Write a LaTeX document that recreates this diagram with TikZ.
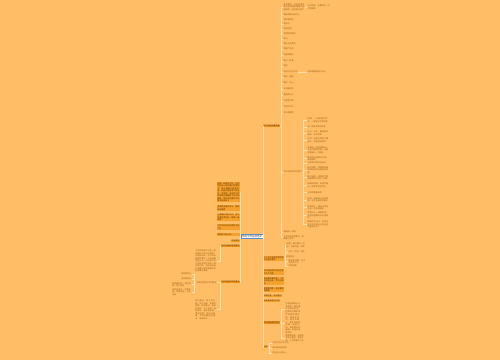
\documentclass[tikz,border=0pt]{standalone}
\usepackage{fontspec}
\newfontfamily\cjk{Noto Sans CJK SC}
\XeTeXlinebreaklocale "zh"
\XeTeXlinebreakskip=0pt plus 1pt
\definecolor{bgc}{HTML}{FFBD66}
\definecolor{linec}{HTML}{FFE2B0}
\definecolor{boxc}{HTML}{F5A12C}
\definecolor{barc}{HTML}{EE9218}
\definecolor{leafc}{HTML}{9A5E16}
\definecolor{boxt}{HTML}{5A3208}
\newcommand\mmf{\cjk\fontsize{2}{2.5}\selectfont}
\begin{document}
\begin{tikzpicture}[x=1pt,y=-1pt,
  leaf/.style={inner sep=0.5pt, font=\mmf, text=leafc, align=left},
  boxn/.style={leaf, fill=boxc, text=boxt},
  barn/.style={leaf, fill=barc, text=boxt},
  conn/.style={draw=linec, line width=0.6pt},
  rt/.style={anchor=west}, lt/.style={anchor=east}]
\fill[bgc] (0,0) rectangle (500,360);
\useasboundingbox (0,0) rectangle (500,360);
% center
\node[draw=cyan!50!blue!70, fill=white, inner sep=0.7pt, font=\cjk\fontsize{2.5}{3}\selectfont, text=black!80] (C) at (252,236.5) {年终工作总结范文};
% right first level
\node[barn,rt] (R1) at (263,126) {工作总结主要内容};
\node[boxn,rt,text width=20pt] (R2) at (263,258.5) {个人工作总结的写作格式与基本要求};
\node[boxn,rt,text width=20pt] (R3) at (263,272) {工作总结写作时应注意的几个问题};
\node[boxn,rt,text width=20pt] (R4) at (263,281) {总结要实事求是，一切从实际出发，不夸大成绩};
\node[boxn,rt,text width=20pt] (R5) at (263,289.5) {条理要清楚，语言要简明准确};
\node[boxn,rt] (R6) at (263,296) {详略适宜，突出重点};
\node[boxn,rt] (R7) at (263,301) {总结要有理论价值};
\node[barn,rt] (R8) at (263,322.5) {工作总结写作方法};
\node[boxn,rt] (R9) at (263,347) {结尾};
% R1 children
\node[leaf,rt,text width=21pt] (A0) at (283,7) {基本情况：对自身情况和形势背景的简略介绍或说明，包括单位名称};
\node[leaf,rt,text width=22pt] (A0a) at (307,7) {工作性质、主要任务、时代背景等};
\node[leaf,rt] (A1) at (283,15) {成绩和缺点是中心};
\node[leaf,rt] (A2) at (283,19.5) {成绩有哪些};
\node[leaf,rt] (A3) at (283,24) {有多大};
\node[leaf,rt] (A4) at (283,29) {表现在哪};
\node[leaf,rt] (A5) at (283,33.5) {是怎样取得的};
\node[leaf,rt] (A6) at (283,39) {缺点};
\node[leaf,rt] (A7) at (283,44) {是什么性质的};
\node[leaf,rt] (A8) at (283,49) {怎样产生的};
\node[leaf,rt] (A9) at (283,55) {经验和教训};
\node[leaf,rt] (A10) at (283,61) {做过一件事};
\node[leaf,rt] (A11) at (283,66) {经验};
\node[leaf,rt] (A12) at (283,72) {须对以往工作的};
\node[leaf,rt] (A12a) at (307,72) {经验和教训进行分析};
\node[leaf,rt] (A13) at (283,77) {研究、概括};
\node[leaf,rt] (A14) at (283,83) {集中，并上};
\node[leaf,rt] (A15) at (283,89) {升到理论的};
\node[leaf,rt] (A16) at (283,95) {高度来认识};
\node[leaf,rt] (A17) at (283,101) {今后的打算};
\node[leaf,rt] (A18) at (283,107) {今后的工作};
\node[leaf,rt] (A19) at (283,113) {任务和要求};
\node[leaf,rt] (B) at (283,172) {工作总结的写作格式};
\node[leaf,rt] (C1) at (283,232) {吸取前一时期};
\node[leaf,rt,text width=20pt] (C2) at (283,237.5) {工作的经验和教训，明确努力方向};
% B children
\node[leaf,rt,text width=21pt] (B1) at (307,120.5) {标题：一般有两种写法，一种是公文式标题};
\node[leaf,rt] (B2) at (307,127) {另一种是文章式标题};
\node[leaf,rt,text width=21pt] (B3) at (307,133.5) {正文：开头，概述基本情况，交代背景};
\node[leaf,rt,text width=21pt] (B4) at (307,140.5) {主体：这是总结的主要部分，内容包括成绩};
\node[leaf,rt,text width=21pt] (B5) at (307,150) {和做法、经验和教训、今后打算等方面，这部分篇幅大、内容多};
\node[leaf,rt,text width=21pt] (B6) at (307,158.5) {要特别注意层次分明、条理清楚};
\node[leaf,rt] (B7) at (307,163) {主体部分常见的结构};
\node[leaf,rt,text width=21pt] (B8) at (307,170) {纵式结构：按照事物或实践活动的过程安排内容};
\node[leaf,rt,text width=21pt] (B9) at (307,177.5) {横式结构：按事实性质和规律的不同分门别类};
\node[leaf,rt,text width=21pt] (B10) at (307,185.5) {纵横式结构：安排内容时，既考虑时间先后};
\node[leaf,rt] (B11) at (307,192.5) {又考虑逻辑关系};
\node[leaf,rt,text width=21pt] (B12) at (307,200) {结尾：结尾是正文的收束，应在总结经验教训};
\node[leaf,rt,text width=21pt] (B13) at (307,207.5) {的基础上，提出今后的方向、任务和措施};
\node[leaf,rt,text width=21pt] (B14) at (307,215.5) {表明决心、展望前景，这段内容要与开头相照应};
\node[leaf,rt,text width=21pt] (B15) at (307,224.5) {篇幅不应过长，有些总结在主体部分已将这些内容表达过了};
% R2 children
\node[leaf,rt,text width=18pt] (D1) at (286,245) {标题：单位名称、时间、主要内容、文种};
\node[leaf,rt] (D2) at (288,252) {正文：前言、主体};
\node[leaf,rt] (D3) at (286,257) {结尾部分};
\node[leaf,rt,text width=17pt] (D4) at (288,261.5) {署名和日期：在正文的右下方};
\node[leaf,rt] (D5) at (288,266) {写明日期};
% R8 children
\node[leaf,rt,text width=15pt] (E1) at (285,309) {总结前要充分占有材料。最好通过不同的形式，听取各方面的意见};
\node[leaf,rt,text width=15pt] (E2) at (285,323.5) {一定要实事求是，成绩不夸大，缺点不缩小，更不能弄虚作假。这是分析、得出教训的基础，也是总结的原则};
\node[leaf,rt,text width=18pt] (E3) at (285,338) {条理要清楚。总结是写给人看的，条理不清，人们就看不下去};
% R9 children
\node[leaf,rt] (F1) at (272,343) {总结今后工作方向};
\node[leaf,rt] (F2) at (272,348) {提出改进的措施};
\node[leaf,rt] (F3) at (272,353) {表示信心和决心};
% left first level
\node[boxn,lt,text width=22pt] (L1) at (240,192) {回顾一年来的工作，在领导的关心和同事们的帮助下，我认真履行岗位职责，积极完成各项工作任务，在思想、业务和工作作风等方面都有了较大的提高，现将本年度的工作情况总结如下};
\node[boxn,lt,text width=22pt] (L2) at (240,208) {加强政治理论学习，提高自身素质};
\node[boxn,lt,text width=22pt] (L3) at (240,217.5) {认真做好本职工作，努力完成各项任务，取得一定成绩};
\node[boxn,lt,text width=22pt] (L4) at (240,227) {工作中存在的问题和不足之处};
\node[boxn,lt,text width=22pt] (L5) at (240,234.5) {明年的工作计划};
\node[boxn,lt] (L6) at (240,241) {总结经验};
\node[barn,lt] (L7) at (240,246) {工作总结的基本要求};
\node[barn,lt] (L8) at (240,282) {工作总结的写作要点};
% L7 children
\node[leaf,lt,text width=21pt] (K1) at (217,261) {工作总结是对过去一定时期的工作进行回顾、分析和研究，从中找出经验和教训，引出规律性的认识，以指导今后工作和实践活动的一种应用文体。总结的内容必须要以党和国家的方针政策为准绳};
% L8 children
\node[leaf,lt] (G1) at (217,282.5) {总结的种类与写作要点};
\node[leaf,lt,text width=21pt] (G2) at (217,309.5) {按内容分，有工作总结、学习总结、思想总结等；按范围分，有单位总结、个人总结；按时间分，有年度总结、季度总结、月份总结等。写作时要抓住重点，突出特点};
% G1 children
\node[leaf,lt] (H1) at (192,274) {按性质划分};
\node[leaf,lt] (H2) at (192,279) {按内容划分};
\node[leaf,lt,text width=19pt] (H3) at (192,284.5) {按范围划分：地区总结、部门总结};
\node[leaf,lt,text width=19pt] (H4) at (192,292) {按时间划分：年度总结、季度总结、月份总结};
% connectors
\foreach \c in {R1,R2,R3,R4,R5,R6,R7,R8,R9} \draw[conn] (C.east) -- ++(0.6,0) |- (\c.west);
\foreach \c in {L1,L2,L3,L4,L5,L6,L7,L8} \draw[conn] (C.west) -- ++(-1,0) |- (\c.east);
\foreach \c in {A0,A1,A2,A3,A4,A5,A6,A7,A8,A9,A10,A11,A12,A13,A14,A15,A16,A17,A18,A19,B,C1,C2} \draw[conn] (R1.east) -- ++(1,0) |- (\c.west);
\draw[conn] (A0.east) -- (A0a.west);
\draw[conn] (A12.east) -- (A12a.west);
\foreach \c in {B1,B2,B3,B4,B5,B6,B7,B8,B9,B10,B11,B12,B13,B14,B15} \draw[conn] (B.east) -- ++(0.8,0) |- (\c.west);
\foreach \c in {D1,D2,D3,D4,D5} \draw[conn] (R2.east) -- ++(0.6,0) |- (\c.west);
\foreach \c in {E1,E2,E3} \draw[conn] (R8.east) -- ++(1,0) |- (\c.west);
\foreach \c in {F1,F2,F3} \draw[conn] (R9.east) -- ++(0.8,0) |- (\c.west);
\draw[conn] (L7.west) -- ++(-0.5,0) |- (K1.east);
\foreach \c in {G1,G2} \draw[conn] (L8.west) -- ++(-0.5,0) |- (\c.east);
\foreach \c in {H1,H2,H3,H4} \draw[conn] (G1.west) -- ++(-1,0) |- (\c.east);
\end{tikzpicture}
\end{document}
